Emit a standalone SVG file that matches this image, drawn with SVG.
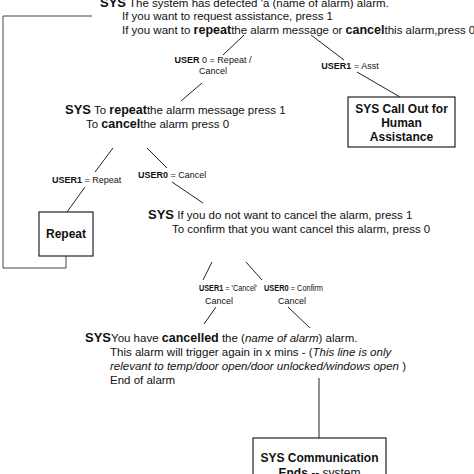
<svg xmlns="http://www.w3.org/2000/svg" width="474" height="474" viewBox="0 0 474 474">
<style>
text{font-family:"Liberation Sans",Arial,sans-serif;fill:#111;}
.t{font-size:11.5px;}
.s{font-size:9px;}
.sb{font-weight:bold;}
.b13{font-weight:bold;font-size:13px;}
.b12{font-weight:bold;font-size:12.5px;}
.it{font-style:italic;}
.nb{font-weight:normal;}
.box{fill:#fff;stroke:#222;stroke-width:1.2;}
.bt{font-size:12px;font-weight:bold;text-anchor:middle;}
.c line,.c polyline{stroke:#222;stroke-width:1;fill:none;}
</style>
<rect width="474" height="474" fill="#fff"/>
<g class="c" id="connectors">
<polyline points="92,16 3,16 3,268 66,268 66,256" style="stroke:#444"/>
<line x1="244" y1="35" x2="223" y2="55"/>
<line x1="311" y1="35" x2="344" y2="60"/>
<line x1="202" y1="83" x2="181" y2="101"/>
<line x1="357" y1="72" x2="400" y2="97"/>
<line x1="113" y1="148" x2="95" y2="172"/>
<line x1="147" y1="148" x2="167" y2="168"/>
<line x1="85" y1="187" x2="67" y2="212"/>
<line x1="172" y1="182" x2="203" y2="203"/>
<line x1="212" y1="262" x2="203" y2="280"/>
<line x1="246" y1="262" x2="262" y2="280"/>
<line x1="216" y1="307" x2="204" y2="324"/>
<line x1="288" y1="307" x2="310" y2="328"/>
<line x1="319" y1="378" x2="319" y2="438"/>
</g>
<g id="n-start">
<text class="t" x="100" y="7"><tspan class="b13">SYS</tspan> The system has detected 'a (name of alarm) alarm.</text>
<text class="t" x="122" y="20" textLength="211" lengthAdjust="spacingAndGlyphs">If you want to request assistance, press 1</text>
<text class="t" x="122" y="34">If you want to <tspan class="b12">repeat</tspan>the alarm message or <tspan class="b12">cancel</tspan>this alarm,press 0</text>
</g>
<g id="e-user0">
<text class="s" x="213" y="63" text-anchor="middle"><tspan class="sb">USER</tspan> 0 = Repeat /</text>
<text class="s" x="213" y="74" text-anchor="middle">Cancel</text>
</g>
<g id="e-user1">
<text class="s" x="350" y="69" text-anchor="middle"><tspan class="sb">USER1</tspan> = Asst</text>
</g>
<g id="n-callout">
<rect class="box" x="348" y="97" width="107" height="50"/>
<text class="bt" x="401.5" y="113">SYS Call Out for</text>
<text class="bt" x="401.5" y="127">Human</text>
<text class="bt" x="401.5" y="141">Assistance</text>
</g>
<g id="n-repeatmsg">
<text class="t" x="65" y="114"><tspan class="b13">SYS</tspan> To <tspan class="b12">repeat</tspan>the alarm message press 1</text>
<text class="t" x="86" y="128">To <tspan class="b12">cancel</tspan>the alarm press 0</text>
</g>
<g id="e-user1-repeat">
<text class="s" x="52" y="183"><tspan class="sb">USER1</tspan> = Repeat</text>
</g>
<g id="e-user0-cancel">
<text class="s" x="138" y="178"><tspan class="sb">USER0</tspan> = Cancel</text>
</g>
<g id="n-repeat">
<rect class="box" x="39" y="212" width="54" height="44"/>
<text class="bt" x="66" y="238">Repeat</text>
</g>
<g id="n-confirm">
<text class="t" x="148" y="219"><tspan class="b13">SYS</tspan> If you do not want to cancel the alarm, press 1</text>
<text class="t" x="172" y="233">To confirm that you want cancel this alarm, press 0</text>
</g>
<g id="e-user1-c">
<text class="s" x="199" y="291" textLength="58" lengthAdjust="spacingAndGlyphs"><tspan class="sb">USER1</tspan> = 'Cancel'</text>
<text class="s" x="219" y="303.5" text-anchor="middle">Cancel</text>
</g>
<g id="e-user0-c">
<text class="s" x="264" y="291" textLength="59" lengthAdjust="spacingAndGlyphs"><tspan class="sb">USER0</tspan> = Confirm</text>
<text class="s" x="292" y="303.5" text-anchor="middle">Cancel</text>
</g>
<g id="n-cancelled">
<text class="t" x="85" y="342"><tspan class="b13">SYS</tspan>You have <tspan class="b12">cancelled</tspan> the (<tspan class="it">name of alarm</tspan>) alarm.</text>
<text class="t" x="110" y="356">This alarm will trigger again in x mins - (<tspan class="it">This line is only</tspan></text>
<text class="t" x="110" y="370"><tspan class="it">relevant to temp/door open/door unlocked/windows open</tspan> )</text>
<text class="t" x="110" y="384">End of alarm</text>
</g>
<g id="n-end">
<rect class="box" x="253" y="438" width="133" height="50"/>
<text class="bt" x="319.5" y="462">SYS Communication</text>
<text class="bt" x="319.5" y="477">Ends <tspan class="nb">-- system</tspan></text>
</g>
</svg>
